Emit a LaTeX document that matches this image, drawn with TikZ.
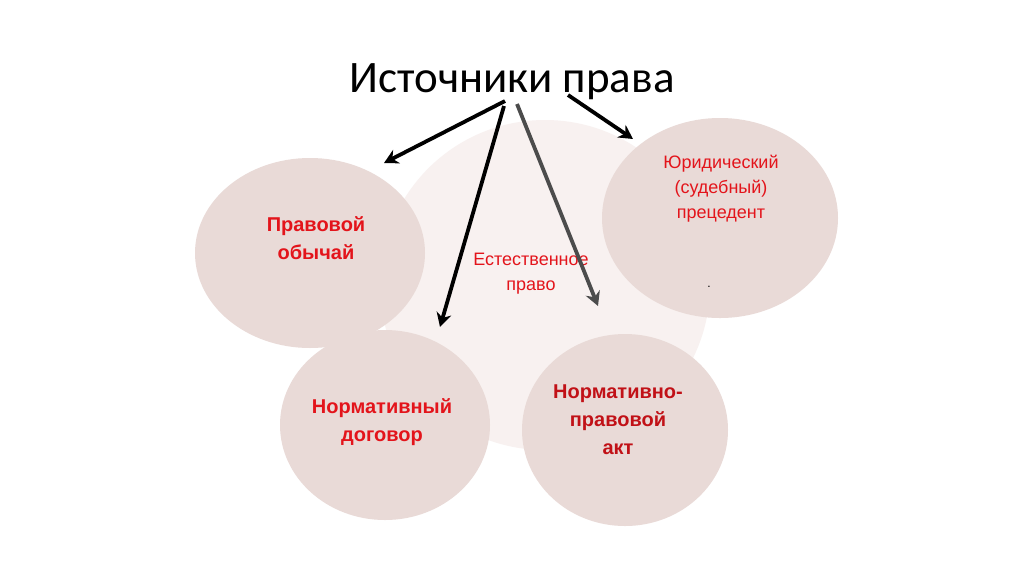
\documentclass[tikz,border=0pt]{standalone}
\usepackage{fontspec}
\setmainfont{Liberation Sans}
\newfontfamily\titlefont{Carlito}
\usetikzlibrary{arrows.meta}
\definecolor{bgc}{HTML}{F8F1F0}
\definecolor{cc}{HTML}{E9DAD7}
\definecolor{rd}{HTML}{E3141B}
\tikzset{blob/.style={fill=cc,draw=none},
lbl/.style={text=rd,font=\bfseries\fontsize{20}{28}\selectfont,align=center},
lbn/.style={text=rd,font=\fontsize{18}{25}\selectfont,align=center},
arr/.style={line width=3.8pt,-{Stealth[length=14pt,width=15pt]}}}
\begin{document}
\begin{tikzpicture}[x=1pt,y=-1pt]
\useasboundingbox (0,0) rectangle (1024,574);
\fill[white] (0,0) rectangle (1024,574);
\fill[bgc] (545,285) circle (165);
\path[blob] (310,253) ellipse [x radius=115,y radius=95];
\path[blob] (385,425) ellipse [x radius=105,y radius=95];
\path[blob] (625,430) ellipse [x radius=103,y radius=96];
\path[blob] (720,218) ellipse [x radius=118,y radius=100];
\node (title) at (512,82) {\titlefont\fontsize{45}{52}\selectfont Источники права};
\node[lbl] (a) at (316,238) {Правовой\\обычай};
\node[lbn] (b) at (531,274) {Естественное\\право};
\node[lbl] (c) at (382,422) {Нормативный\\договор};
\node[lbl,text=rd!85!black] (d) at (618,420) {Нормативно-\\правовой\\акт};
\node[lbn] (e) at (721,189) {Юридический\\(судебный)\\прецедент};
\node[font=\large] (dot) at (709,287) {.};
\coordinate (s1) at (505,101);
\coordinate (s2) at (504,106);
\coordinate (s3) at (517,104);
\coordinate (s4) at (568,95);
\coordinate (t1) at (384,163);
\coordinate (t2) at (440,327);
\coordinate (t3) at (598,306);
\coordinate (t4) at (633,139);
\draw[arr] (s1) -- (t1);
\draw[arr] (s2) -- (t2);
\draw[arr,draw=black!70] (s3) -- (t3);
\draw[arr] (s4) -- (t4);
\end{tikzpicture}
\end{document}
